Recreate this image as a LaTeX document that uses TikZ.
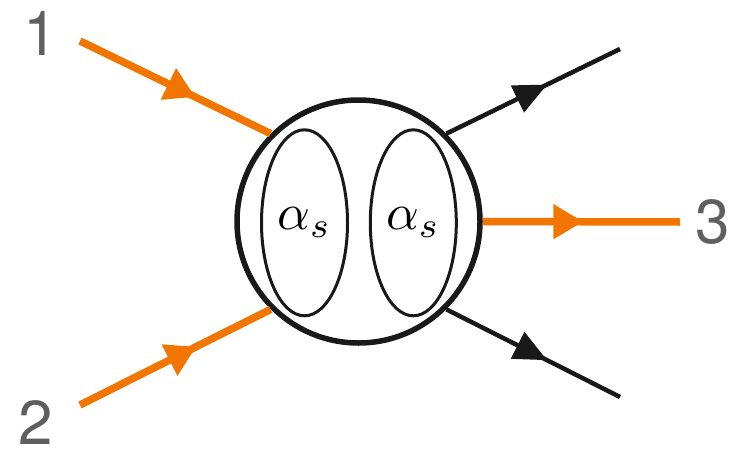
\documentclass[tikz,border=0pt]{standalone}
\usepackage{fontspec}
\newfontfamily\labelfont{TeX Gyre Heros}
\usetikzlibrary{arrows.meta,decorations.markings,shapes.geometric}
\definecolor{myorange}{HTML}{F27500}
\definecolor{labelgray}{HTML}{5F5F5F}
\newcommand{\bigalpha}{\scalebox{5.1}{$\alpha_s$}}
\tikzset{
  orangeline/.style={draw=myorange, line width=7.5pt},
  blackline/.style={draw=black!90, line width=4.5pt},
  orangemark/.style={postaction={decorate}, decoration={markings,
    mark=at position #1 with {\arrow{Triangle[length=30pt,width=33pt,fill=myorange,color=myorange]}}}},
  blackmark/.style={postaction={decorate}, decoration={markings,
    mark=at position #1 with {\arrow{Triangle[length=33pt,width=29pt,fill=black!90,color=black!90]}}}},
  blobstyle/.style={circle, draw=black!90, fill=white, line width=5.5pt, minimum size=243pt, inner sep=0pt},
  loopstyle/.style={ellipse, draw=black!90, line width=3pt, minimum width=86pt, minimum height=186pt, inner sep=0pt},
  numlabel/.style={font=\labelfont\fontsize{62}{70}\selectfont, text=labelgray, inner sep=0pt, anchor=base}
}
\begin{document}
\begin{tikzpicture}[x=1pt,y=-1pt]
\useasboundingbox (0,0) rectangle (738,452);
\node[blobstyle] (blob) at (358.5,221.5) {};
\node[loopstyle] (e1) at (304.5,222.8) {\bigalpha};
\node[loopstyle] (e2) at (413.3,222.8) {\bigalpha};
\coordinate (s1) at (80,41);
\coordinate (s2) at (80,405);
\coordinate (t3) at (680,222);
\coordinate (t4) at (620,49);
\coordinate (t5) at (620,397);
\draw[orangeline, orangemark=0.605] (s1) -- (blob.135);
\draw[orangeline, orangemark=0.61] (s2) -- (blob.225);
\draw[orangeline, orangemark=0.51] (blob.0) -- (t3);
\draw[blackline, blackmark=0.58] (blob.45) -- (t4);
\draw[blackline, blackmark=0.58] (blob.-45) -- (t5);
\node[numlabel] (l1) at (40.5,56) {1};
\node[numlabel] (l2) at (36,444) {2};
\node[numlabel] (l3) at (713,243) {3};
\end{tikzpicture}
\end{document}
